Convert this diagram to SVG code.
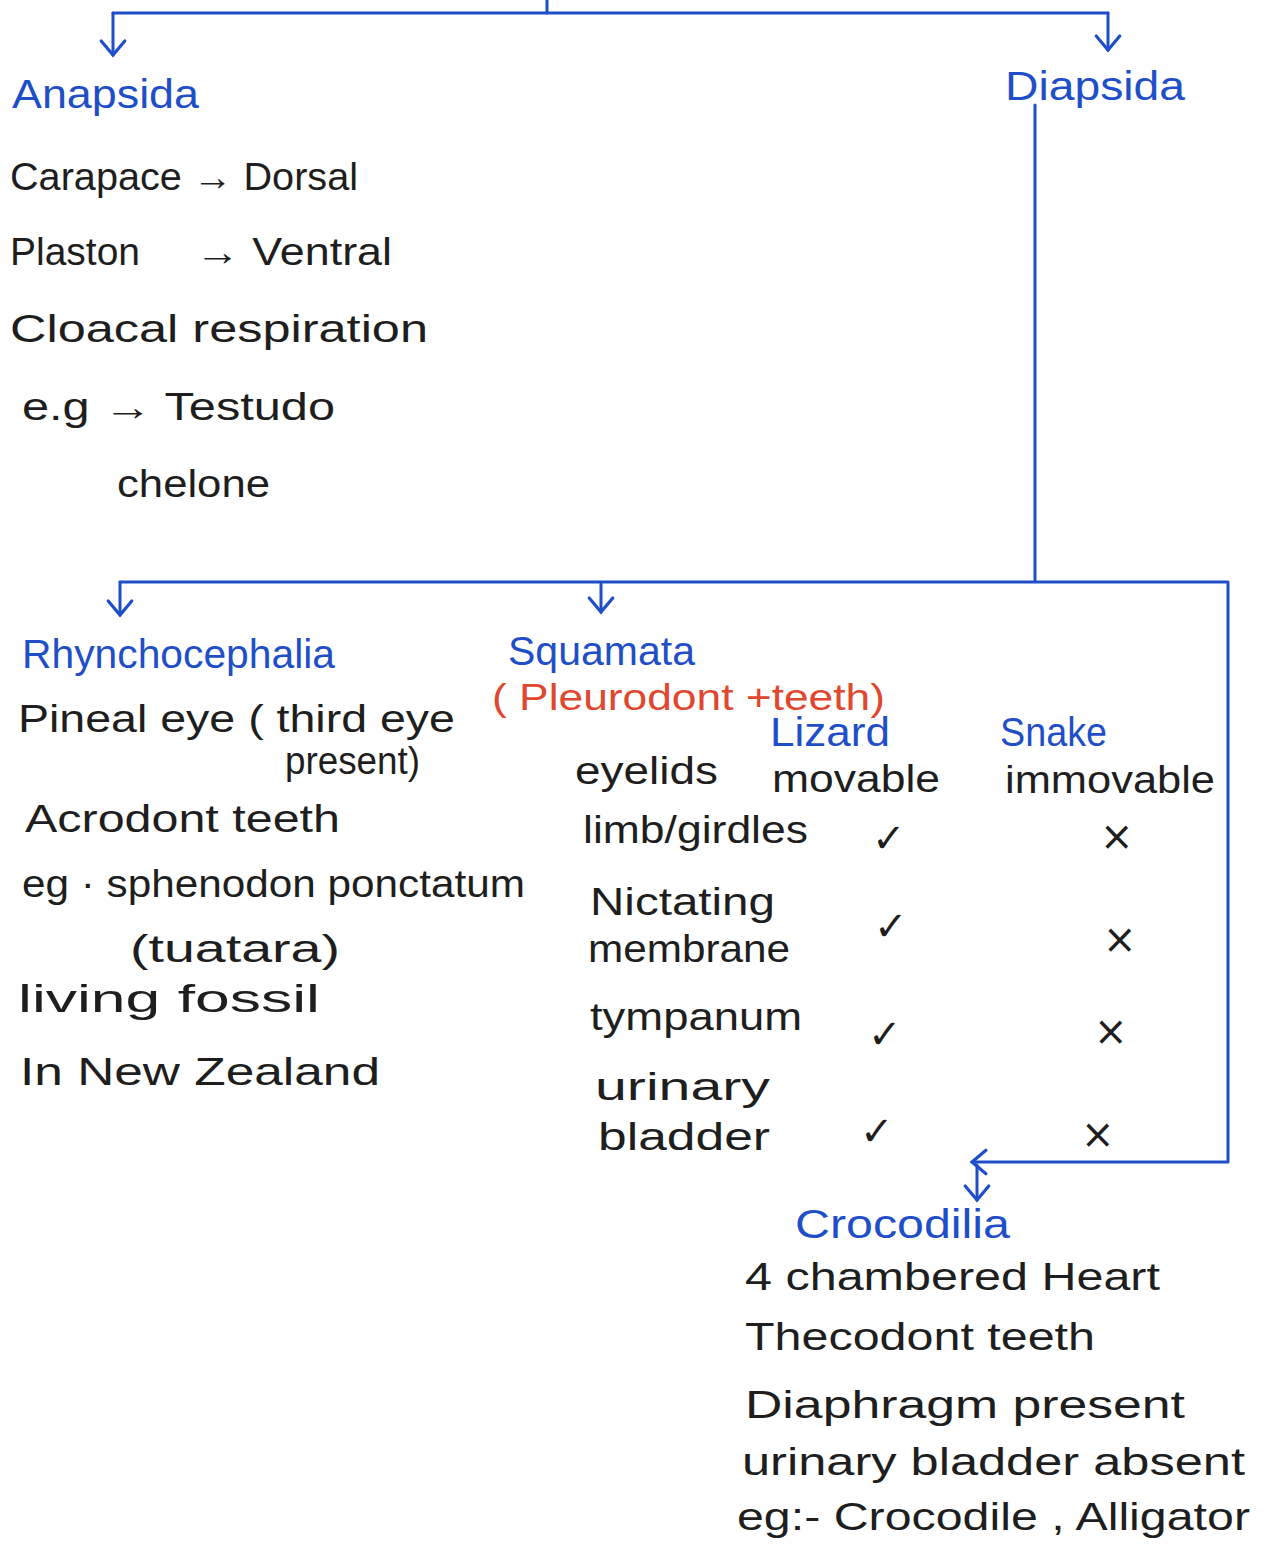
<svg xmlns="http://www.w3.org/2000/svg" width="1265" height="1548" viewBox="0 0 1265 1548">
<style>
.t{font-family:"Liberation Sans","DejaVu Sans",sans-serif;fill:#1e1e1e;font-size:38px}
.h{font-family:"Liberation Sans","DejaVu Sans",sans-serif;fill:#1f4fc8;font-size:40px}
.r{font-family:"Liberation Sans","DejaVu Sans",sans-serif;fill:#e0472f;font-size:36px}
.m{font-family:"DejaVu Sans",sans-serif;fill:#1e1e1e;font-size:40px}
.c{fill:none;stroke:#1f4fc8;stroke-width:3;stroke-linecap:round;stroke-linejoin:round}
</style>
<defs>
<marker id="a" markerUnits="userSpaceOnUse" markerWidth="30" markerHeight="30" viewBox="-16 -14 20 28" refX="0" refY="0" orient="auto">
<path d="M-13,-11 L0,0 L-13,11" fill="none" stroke="#1f4fc8" stroke-width="3" stroke-linecap="round"/>
</marker>
</defs>
<rect width="1265" height="1548" fill="#ffffff"/>
<g id="connectors">
<path class="c" d="M547,0 V13"/>
<path class="c" d="M113,13 H1108"/>
<path class="c" d="M113,13 V55" marker-end="url(#a)"/>
<path class="c" d="M1108,13 V50" marker-end="url(#a)"/>
<path class="c" d="M1035,105 V580"/>
<path class="c" d="M120,582 H1228 V1162 H972" marker-end="url(#a)"/>
<path class="c" d="M120,582 V615" marker-end="url(#a)"/>
<path class="c" d="M601,584 V612" marker-end="url(#a)"/>
<path class="c" d="M977,1165 V1200" marker-end="url(#a)"/>
</g>
<g id="anapsida">
<text class="h" x="12" y="108" textLength="187" lengthAdjust="spacingAndGlyphs">Anapsida</text>
<text class="t" x="10" y="190" textLength="348" lengthAdjust="spacingAndGlyphs">Carapace → Dorsal</text>
<text class="t" x="10" y="265" textLength="130" lengthAdjust="spacingAndGlyphs">Plaston</text>
<text class="t" x="195" y="265" textLength="197" lengthAdjust="spacingAndGlyphs">→ Ventral</text>
<text class="t" x="10" y="342" textLength="418" lengthAdjust="spacingAndGlyphs">Cloacal respiration</text>
<text class="t" x="22" y="420" textLength="313" lengthAdjust="spacingAndGlyphs">e.g → Testudo</text>
<text class="t" x="117" y="497" textLength="153" lengthAdjust="spacingAndGlyphs">chelone</text>
</g>
<g id="diapsida">
<text class="h" x="1005" y="100" textLength="180" lengthAdjust="spacingAndGlyphs">Diapsida</text>
</g>
<g id="rhynchocephalia">
<text class="h" x="22" y="668" textLength="313" lengthAdjust="spacingAndGlyphs">Rhynchocephalia</text>
<text class="t" x="18" y="732" textLength="437" lengthAdjust="spacingAndGlyphs">Pineal eye ( third eye</text>
<text class="t" x="285" y="774" font-size="34" textLength="135" lengthAdjust="spacingAndGlyphs">present)</text>
<text class="t" x="25" y="832" textLength="315" lengthAdjust="spacingAndGlyphs">Acrodont teeth</text>
<text class="t" x="22" y="897" textLength="503" lengthAdjust="spacingAndGlyphs">eg · sphenodon ponctatum</text>
<text class="t" x="130" y="962" textLength="210" lengthAdjust="spacingAndGlyphs">(tuatara)</text>
<text class="t" x="18" y="1012" textLength="302" lengthAdjust="spacingAndGlyphs">living fossil</text>
<text class="t" x="20" y="1085" textLength="360" lengthAdjust="spacingAndGlyphs">In New Zealand</text>
</g>
<g id="squamata">
<text class="h" x="508" y="665" textLength="187" lengthAdjust="spacingAndGlyphs">Squamata</text>
<text class="r" x="492" y="710" textLength="393" lengthAdjust="spacingAndGlyphs">( Pleurodont +teeth)</text>
<text class="h" x="770" y="746" font-size="32" textLength="120" lengthAdjust="spacingAndGlyphs">Lizard</text>
<text class="h" x="1000" y="746" font-size="32" textLength="107" lengthAdjust="spacingAndGlyphs">Snake</text>
<text class="t" x="575" y="784" textLength="143" lengthAdjust="spacingAndGlyphs">eyelids</text>
<text class="t" x="772" y="792" font-size="36" textLength="168" lengthAdjust="spacingAndGlyphs">movable</text>
<text class="t" x="1005" y="793" font-size="36" textLength="210" lengthAdjust="spacingAndGlyphs">immovable</text>
<text class="t" x="583" y="843" textLength="225" lengthAdjust="spacingAndGlyphs">limb/girdles</text>
<text class="m" x="872" y="852">✓</text>
<text class="m" x="1100" y="850">×</text>
<text class="t" x="590" y="915" textLength="185" lengthAdjust="spacingAndGlyphs">Nictating</text>
<text class="t" x="588" y="962" textLength="202" lengthAdjust="spacingAndGlyphs">membrane</text>
<text class="m" x="874" y="940">✓</text>
<text class="m" x="1103" y="953">×</text>
<text class="t" x="590" y="1030" textLength="212" lengthAdjust="spacingAndGlyphs">tympanum</text>
<text class="m" x="868" y="1048">✓</text>
<text class="m" x="1094" y="1045">×</text>
<text class="t" x="595" y="1100" textLength="175" lengthAdjust="spacingAndGlyphs">urinary</text>
<text class="t" x="598" y="1150" textLength="172" lengthAdjust="spacingAndGlyphs">bladder</text>
<text class="m" x="860" y="1145">✓</text>
<text class="m" x="1081" y="1148">×</text>
</g>
<g id="crocodilia">
<text class="h" x="795" y="1238" textLength="215" lengthAdjust="spacingAndGlyphs">Crocodilia</text>
<text class="t" x="745" y="1290" textLength="415" lengthAdjust="spacingAndGlyphs">4 chambered Heart</text>
<text class="t" x="745" y="1350" textLength="350" lengthAdjust="spacingAndGlyphs">Thecodont teeth</text>
<text class="t" x="745" y="1418" textLength="440" lengthAdjust="spacingAndGlyphs">Diaphragm present</text>
<text class="t" x="742" y="1475" textLength="503" lengthAdjust="spacingAndGlyphs">urinary bladder absent</text>
<text class="t" x="737" y="1530" textLength="513" lengthAdjust="spacingAndGlyphs">eg:- Crocodile , Alligator</text>
</g>
</svg>
